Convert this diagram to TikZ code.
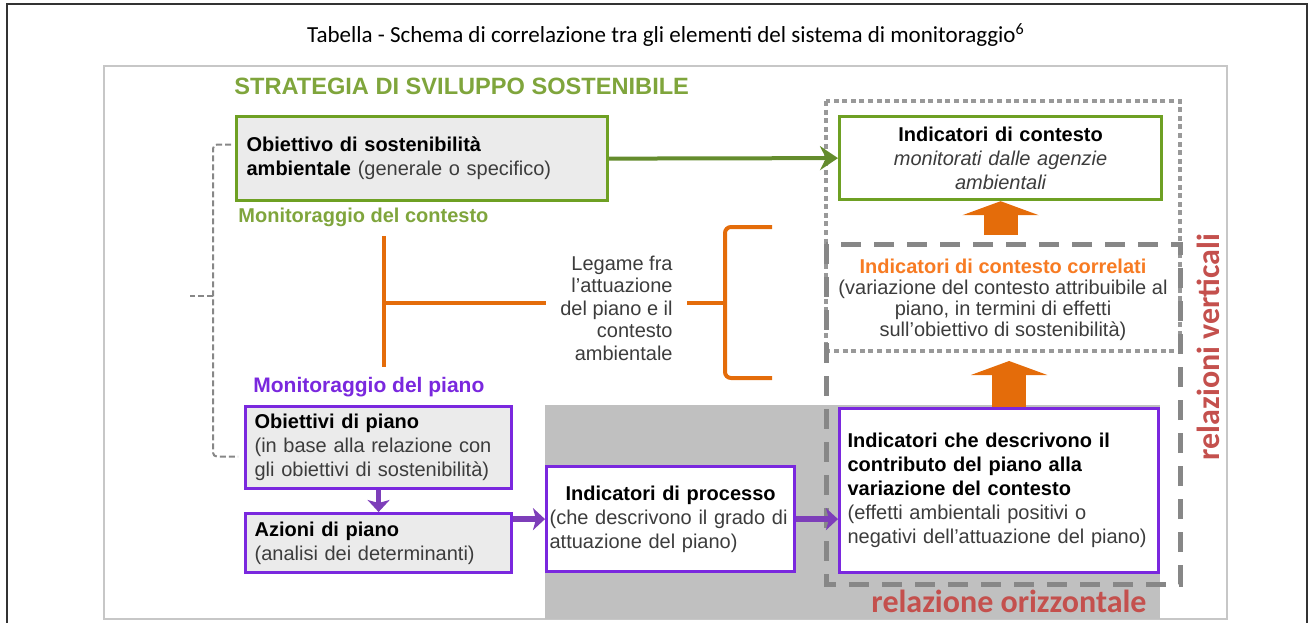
\documentclass[tikz,border=0pt]{standalone}
\usepackage{fontspec}
\setmainfont{Liberation Sans}
\newfontfamily\calibri{Carlito}
\usetikzlibrary{arrows.meta}

% colours
\definecolor{sgreen}{RGB}{110,160,35}
\definecolor{sgreentxt}{RGB}{127,165,60}
\definecolor{garrowc}{RGB}{100,140,45}
\definecolor{spurple}{RGB}{122,40,222}
\definecolor{parrowc}{RGB}{125,62,185}
\definecolor{sorange}{RGB}{228,108,10}
\definecolor{sorangetxt}{RGB}{247,123,35}
\definecolor{sred}{RGB}{196,80,77}
\definecolor{relgray}{RGB}{135,135,135}
\definecolor{bggray}{RGB}{192,192,192}
\definecolor{boxfill}{RGB}{235,235,235}
\definecolor{txtgray}{RGB}{60,60,60}

\newcommand{\subtxt}[1]{{\mdseries\color{txtgray}#1}}

\tikzset{
  lbl/.style={inner sep=0pt, anchor=west, font=\bfseries\fontsize{10}{12}\selectfont},
  box/.style={draw, line width=1.6pt, anchor=north west, align=left,
              inner ysep=0pt, font=\bfseries\fontsize{10}{12}\selectfont},
  gbox/.style={box, draw=sgreen},
  pbox/.style={box, draw=spurple},
  garr/.style={draw=garrowc, line width=2pt, -{Stealth[length=9pt,width=12pt,inset=3pt]}},
  parr/.style={draw=parrowc, line width=2.75pt, -{Stealth[length=6pt,width=11pt,inset=1.5pt]}},
  oarr/.style={draw=sorange, line width=17pt, -{Triangle[length=7pt,width=38pt]}},
  obar/.style={draw=sorange, line width=2pt},
  dashrel/.style={draw=relgray, line width=2.5pt, dash pattern=on 10pt off 6.5pt},
  dotrel/.style={draw=relgray!85, line width=2pt, dash pattern=on 2.5pt off 1.8pt},
  gbrace/.style={draw=relgray, line width=1pt, dash pattern=on 3pt off 1.5pt, rounded corners=2pt},
  relbl/.style={text=sred, inner sep=0pt, font=\calibri\bfseries\fontsize{16}{19}\selectfont}
}

\begin{document}
\begin{tikzpicture}[x=0.5pt,y=-0.5pt]
  \useasboundingbox (0,0) rectangle (1313,622);

% frames and background
  \draw[black!80,line width=1pt] (7,640) -- (7,4) -- (1307,4) -- (1307,640);
  \node[font=\calibri\fontsize{11.5}{13}\selectfont] (title) at (666,35)
    {Tabella - Schema di correlazione tra gli elementi del sistema di monitoraggio\textsuperscript{6}};
  \draw[black!22,line width=0.6pt] (104,66) rectangle (1227,619);
  \fill[bggray] (545,405) rectangle (1160,619);

% relations (dotted: context, dashed: vertical/horizontal)
  \draw[dotrel] (826,101) rectangle (1180,351);
  \draw[dashrel] (826,244) rectangle (1180,584);

% headings
  \node[lbl, text=sgreentxt, font=\bfseries\fontsize{11.8}{14}\selectfont] (strat) at (234,86)
    {STRATEGIA DI SVILUPPO SOSTENIBILE};
  \node[lbl, text=sgreentxt] (mctx) at (238,217) {Monitoraggio del contesto};
  \node[lbl, text=spurple, font=\bfseries\fontsize{10.5}{12}\selectfont] (mpl) at (253,387) {Monitoraggio del piano};

% context boxes
  \node[gbox, fill=boxfill, text width=175.5pt, inner xsep=5pt, minimum height=42pt] (obs) at (235,115)
    {Obiettivo di sostenibilità\\ ambientale \subtxt{(generale o specifico)}};
  \node[gbox, fill=white, align=center, text width=155pt, inner xsep=3pt, minimum height=41.5pt] (ic) at (838,115)
    {Indicatori di contesto\\ \subtxt{\itshape monitorati dalle agenzie}\\ \subtxt{\itshape ambientali}};
  \node[align=center, inner sep=0pt, font=\fontsize{10}{10.5}\selectfont, text=txtgray] (corr) at (1003,300)
    {{\bfseries\color{sorangetxt}Indicatori di contesto correlati}\\
     (variazione del contesto attribuibile al\\ piano, in termini di effetti\\ sull'obiettivo di sostenibilità)};

% plan boxes
  \node[pbox, fill=boxfill, text width=124pt, inner xsep=4.5pt, minimum height=41pt] (op) at (244,405)
    {Obiettivi di piano\\ \subtxt{(in base alla relazione con}\\ \subtxt{gli obiettivi di sostenibilità)}};
  \node[pbox, fill=boxfill, text width=124pt, inner xsep=4.5pt, minimum height=29.5pt] (az) at (244,512)
    {Azioni di piano\\ \subtxt{(analisi dei determinanti)}};
  \node[pbox, fill=white, text width=121pt, inner xsep=1.5pt, minimum height=52.5pt] (pr) at (545,465)
    {{\centering Indicatori di processo\par}\subtxt{(che descrivono il grado di}\\ \subtxt{attuazione del piano)}};
  \node[pbox, fill=white, text width=151.5pt, inner xsep=4pt, minimum height=82pt] (ib) at (838,407)
    {Indicatori che descrivono il\\ contributo del piano alla\\ variazione del contesto\\
     \subtxt{(effetti ambientali positivi o}\\ \subtxt{negativi dell'attuazione del piano)}};

% link between plan and context
  \coordinate (lt) at (384,236);
  \coordinate (lb) at (384,367);
  \coordinate (rt) at (772,227);
  \coordinate (rk) at (725,303);
  \coordinate (rb) at (772,378);
  \node[anchor=east, align=right, inner xsep=7pt, inner ysep=0pt, text=txtgray,
        font=\fontsize{10}{11.25}\selectfont] (leg) at (687,308)
    {Legame fra\\ l'attuazione\\ del piano e il\\ contesto\\ ambientale};
  \draw[obar] (lt) -- (lb);
  \draw[obar] ([yshift=2.5pt]leg.west) -- (lt |- rk);
  \draw[obar] ([yshift=2.5pt]leg.east) -- (rk);
  \draw[obar, rounded corners=3pt] (rt) -| (rk) |- (rb);

% left dashed brace
  \coordinate (bm) at (213,296);
  \draw[gbrace] ([shift={(-2pt,7pt)}]obs.west) -| (bm) |- ([shift={(-3pt,-4.5pt)}]op.west);
  \draw[gbrace] (bm) -- ++(-23,0);

% arrows
  \draw[garr] (obs.east) -- (ic.west);
  \draw[oarr] ([yshift=-17pt]ic.south) -- (ic.south);
  \draw[oarr] ([xshift=5pt]ib.north) -- ([shift={(5pt,23pt)}]ib.north);
  \draw[parr] (op.south) -- (az.north);
  \draw[parr] (az.east |- pr.west) -- (pr.west);
  \draw[parr] (pr.east) -- (pr.east -| ib.west);

% relation labels
  \node[relbl] (rorizz) at (1009,601) {relazione orizzontale};
  \node[relbl, rotate=90] (rvert) at (1208,347) {relazioni verticali};

\end{tikzpicture}
\end{document}
